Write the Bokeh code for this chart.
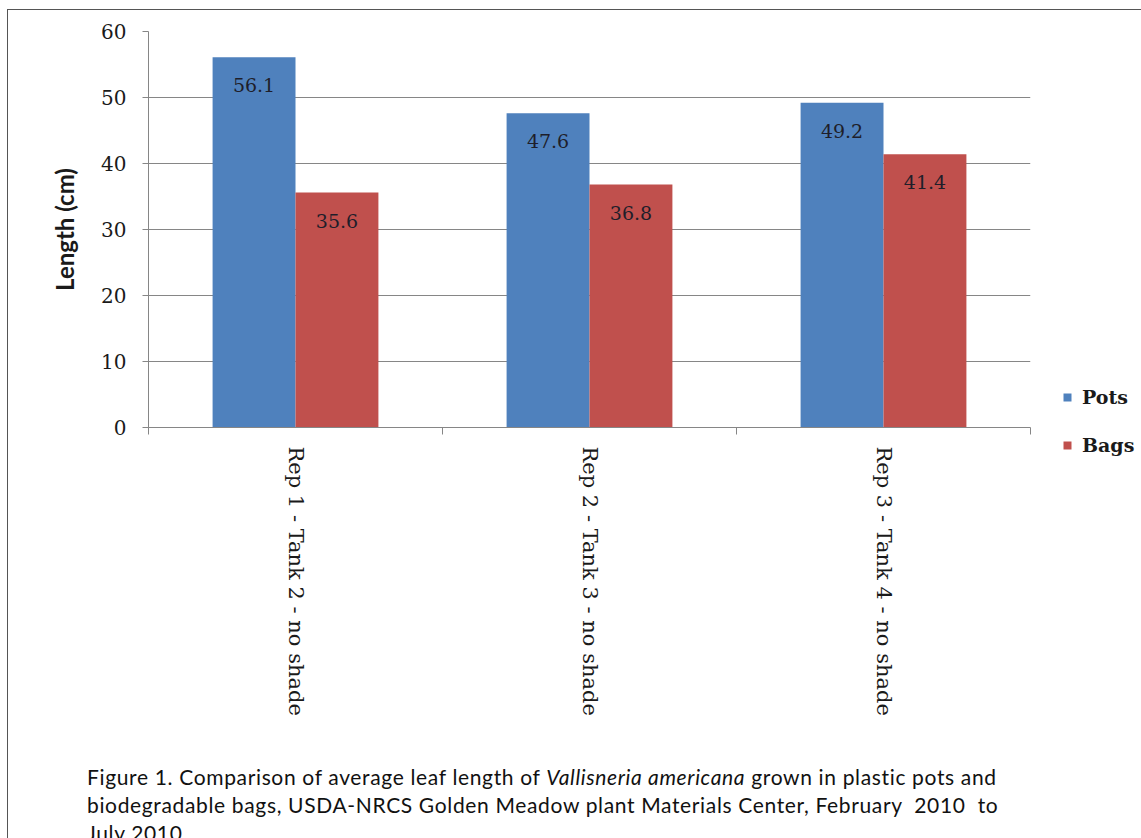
import math
from bokeh.plotting import figure
from bokeh.models import (Range1d, FixedTicker, Legend, LegendItem,
                          ColumnDataSource, Div)
from bokeh.layouts import column, row
from bokeh.core.properties import value
from bokeh.transform import dodge
from bokeh.embed import file_html
from bokeh.resources import INLINE

# ---- data ----
categories = ["Rep 1 - Tank 2 - no shade",
              "Rep 2 - Tank 3 - no shade",
              "Rep 3 - Tank 4 - no shade"]
series = ["Pots", "Bags"]
pots = [56.1, 47.6, 49.2]
bags = [35.6, 36.8, 41.4]
y_ticks = [0, 10, 20, 30, 40, 50, 60]
y_label = "Length (cm)"
colors = ["#4F81BD", "#C0504D"]

# ---- layout constants ----
W_MAIN, W_LEG, H = 1042, 91, 745
BAR_W = 0.282
OFF = BAR_W / 2
SERIF = "DejaVu Serif"

centers = [i + 0.5 for i in range(len(categories))]
bounds = [float(i) for i in range(len(categories) + 1)]

src = ColumnDataSource(dict(
    x=centers,
    pots=pots,
    bags=bags,
    pots_txt=[f"{v:.1f}" for v in pots],
    bags_txt=[f"{v:.1f}" for v in bags],
))

p = figure(width=W_MAIN, height=H, output_backend="svg", toolbar_location=None,
           x_range=Range1d(0, len(categories)), y_range=Range1d(y_ticks[0], y_ticks[-1]),
           min_border_left=140, min_border_right=20,
           min_border_top=21, min_border_bottom=328)
p.outline_line_color = None
p.background_fill_color = "white"
p.border_fill_color = "white"

r_pots = p.vbar(x=dodge("x", -OFF), top="pots", width=BAR_W, source=src,
                fill_color=colors[0], line_color=None)
r_bags = p.vbar(x=dodge("x", OFF), top="bags", width=BAR_W, source=src,
                fill_color=colors[1], line_color=None)

for col, off in (("pots", -OFF), ("bags", OFF)):
    p.text(x=dodge("x", off), y=col, text=col + "_txt", source=src,
           text_align="center", text_baseline="middle", y_offset=28,
           text_font=value(SERIF), text_font_size="19px", text_color="#1e1e2a")

# x axis
xa = p.xaxis[0]
xa.ticker = FixedTicker(ticks=centers, minor_ticks=bounds)
xa.major_label_overrides = {c: lab for c, lab in zip(centers, categories)}
xa.major_label_orientation = -math.pi / 2
xa.major_label_text_font = SERIF
xa.major_label_text_font_size = "21px"
xa.major_label_text_color = "#1a1a1a"
xa.major_label_standoff = 12
xa.major_tick_out = 0
xa.major_tick_in = 0
xa.minor_tick_out = 7
xa.minor_tick_in = 0
xa.minor_tick_line_color = "#868686"
xa.axis_line_color = "#868686"

# y axis
ya = p.yaxis[0]
ya.ticker = FixedTicker(ticks=y_ticks)
ya.major_label_text_font = SERIF
ya.major_label_text_font_size = "20px"
ya.major_label_text_color = "#1a1a1a"
ya.major_label_standoff = 16
ya.major_tick_out = 6
ya.major_tick_in = 0
ya.major_tick_line_color = "#868686"
ya.minor_tick_line_color = None
ya.axis_line_color = "#868686"
ya.axis_label = y_label
ya.axis_label_text_font = "Lato"
ya.axis_label_text_font_style = "bold"
ya.axis_label_text_font_size = "24px"
ya.axis_label_text_color = "#1a1a1a"
ya.axis_label_standoff = 19

p.xgrid.visible = False
p.ygrid.grid_line_color = "#868686"

# ---- legend (separate narrow figure to the right of the plot area) ----
lf = figure(width=W_LEG, height=H, output_backend="svg", toolbar_location=None,
            x_range=Range1d(0, 1), y_range=Range1d(0, 1),
            x_axis_location=None, y_axis_location=None, min_border=0)
lf.outline_line_color = None
lf.grid.visible = False
lf.border_fill_color = "white"
# zero-height proxy bars: only used to draw the legend swatches
leg_r = [lf.vbar(x=[0], top=[0], bottom=[0], width=0.1, fill_color=c, line_color=None)
         for c in colors]

legend = Legend(items=[LegendItem(label=s, renderers=[r]) for s, r in zip(series, leg_r)],
                location=(12, 298), orientation="vertical",
                glyph_width=10, glyph_height=10, label_standoff=10,
                label_text_font=SERIF, label_text_font_style="bold",
                label_text_font_size="19px", label_text_color="#1a1a1a",
                label_height=24, spacing=24, padding=0, margin=0,
                border_line_color=None, background_fill_alpha=0)
lf.add_layout(legend, "center")

caption = Div(text=(
    '<div style="font-family:Lato;font-size:21px;letter-spacing:0.65px;line-height:28px;'
    'color:#111111;white-space:nowrap;padding-top:3px;padding-left:74px">'
    'Figure 1. Comparison of average leaf length of <i>Vallisneria americana</i> '
    'grown in plastic pots and<br>'
    'biodegradable bags, USDA-NRCS Golden Meadow plant Materials Center, '
    'February&nbsp; 2010&nbsp; to<br>'
    'July 2010</div>'),
    width=W_MAIN + W_LEG, height=83, styles={"overflow": "hidden"})

layout = column(row(p, column(lf)), caption,
                styles={"border-left": "1px solid #555555",
                        "border-top": "1px solid #555555",
                        "margin-left": "7px", "margin-top": "9px"})

open("out.html", "w").write(file_html(layout, INLINE))
